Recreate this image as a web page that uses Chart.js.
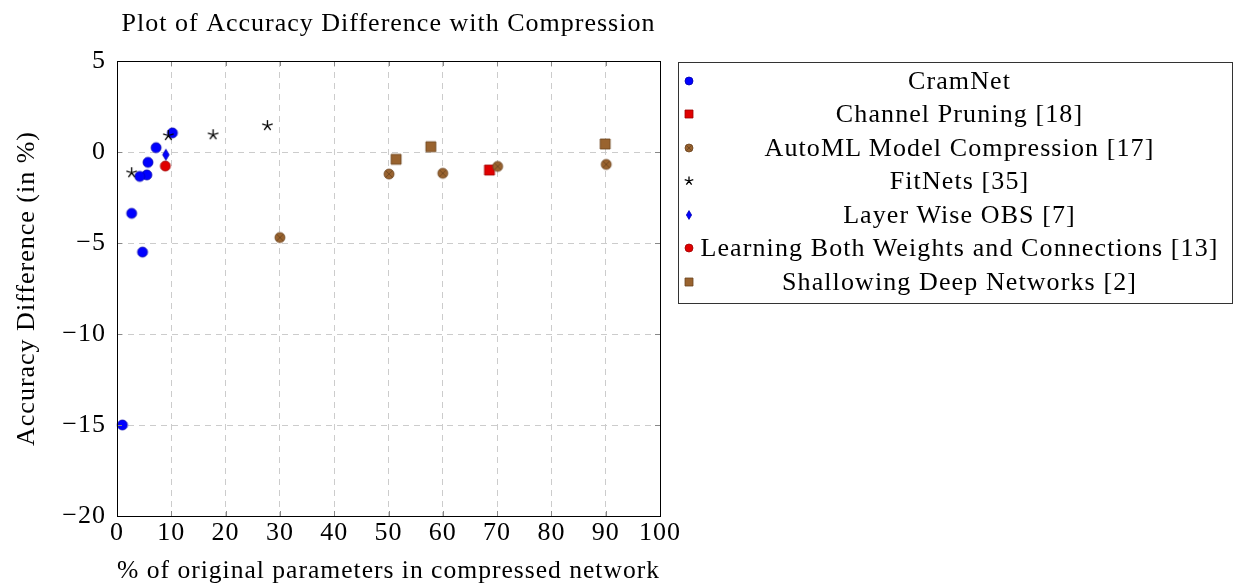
<!DOCTYPE html>
<html>
<head>
<meta charset="utf-8">
<script src="https://cdn.jsdelivr.net/npm/chart.js@4"></script>
<style>
  body { margin: 0; background: #fff; }
  #wrap { position: relative; width: 1233px; height: 586px; font-family: 'Liberation Serif', serif; }
  #legend {
    position: absolute; left: 678px; top: 62px; width: 555px; height: 242px;
    box-sizing: border-box; border: 1px solid #333; background: #fff; padding-top: 1px;
  }
  .row { display: flex; align-items: center; height: 33.5px; }
  .row canvas { width: 18px; height: 14px; flex: none; }
  .row span { flex: 1; text-align: center; font-size: 26px; letter-spacing: 1.1px; color: #000; white-space: nowrap; padding-right: 10px; }
</style>
</head>
<body>
<div id="wrap">
  <canvas id="chart" width="1233" height="586"></canvas>
  <div id="legend"></div>
</div>
<script>
const seriesNames = [
  'CramNet',
  'Channel Pruning [18]',
  'AutoML Model Compression [17]',
  'FitNets [35]',
  'Layer Wise OBS [7]',
  'Learning Both Weights and Connections [13]',
  'Shallowing Deep Networks [2]'
];

// values
const cramNetX = [10.2, 7.2, 5.7, 5.5, 4.2, 2.7, 4.7, 1.0];
const cramNetY = [1.05, 0.24, -0.57, -1.26, -1.34, -3.37, -5.5, -15];
const channelPruningX = [68.6];
const channelPruningY = [-0.99];
const autoMLX = [30, 50.1, 60, 70.1, 90.1];
const autoMLY = [-4.7, -1.21, -1.17, -0.79, -0.68];
const fitNetsX = [2.7, 9.45, 17.7, 27.7];
const fitNetsY = [-1.14, 0.9, 0.95, 1.45];
const layerWiseX = [9];
const layerWiseY = [-0.15];
const learningBothX = [8.9];
const learningBothY = [-0.77];
const shallowingX = [51.4, 57.8, 89.9];
const shallowingY = [-0.4, 0.29, 0.44];

const xTicks = [0, 10, 20, 30, 40, 50, 60, 70, 80, 90, 100];
const yTicks = [-20, -15, -10, -5, 0, 5];

const seriesX = [cramNetX, channelPruningX, autoMLX, fitNetsX, layerWiseX, learningBothX, shallowingX];
const seriesY = [cramNetY, channelPruningY, autoMLY, fitNetsY, layerWiseY, learningBothY, shallowingY];
const markKinds = ['circle', 'square', 'otimes', 'star', 'diamond', 'circle', 'square'];
const markFill = ['#0000ff', '#e00000', '#99632f', '#000', '#0000ff', '#e00000', '#99632f'];
const markLine = ['#0000b0', '#a00000', '#6b4420', '#000', '#0000b0', '#a00000', '#6b4420'];

function drawMark(ctx, kind, cx, cy, r, fill, line) {
  ctx.fillStyle = fill;
  ctx.strokeStyle = line;
  ctx.lineWidth = 0.8;
  ctx.beginPath();
  if (kind === 'circle' || kind === 'otimes') {
    ctx.arc(cx, cy, r, 0, Math.PI * 2);
    ctx.fill();
    ctx.stroke();
    if (kind === 'otimes') {
      const d = r * 0.7;
      ctx.beginPath();
      ctx.moveTo(cx - d, cy - d); ctx.lineTo(cx + d, cy + d);
      ctx.moveTo(cx + d, cy - d); ctx.lineTo(cx - d, cy + d);
      ctx.stroke();
    }
  } else if (kind === 'square') {
    ctx.rect(cx - r, cy - r, 2 * r, 2 * r);
    ctx.fill();
    ctx.stroke();
  } else if (kind === 'diamond') {
    ctx.moveTo(cx, cy - r * 1.1);
    ctx.lineTo(cx + r * 0.65, cy);
    ctx.lineTo(cx, cy + r * 1.1);
    ctx.lineTo(cx - r * 0.65, cy);
    ctx.closePath();
    ctx.fill();
    ctx.stroke();
  } else if (kind === 'star') {
    ctx.lineWidth = 1.3;
    for (let k = 0; k < 5; k++) {
      const a = -Math.PI / 2 + k * 2 * Math.PI / 5;
      ctx.moveTo(cx, cy);
      ctx.lineTo(cx + r * Math.cos(a), cy + r * Math.sin(a));
    }
    ctx.stroke();
  }
}

function markCanvas(i, r) {
  const c = document.createElement('canvas');
  const s = Math.ceil(2 * r + 4);
  c.width = s; c.height = s;
  drawMark(c.getContext('2d'), markKinds[i], s / 2, s / 2, r, markFill[i], markLine[i]);
  return c;
}

const datasets = seriesNames.map((name, i) => ({
  label: name,
  data: seriesX[i].map((x, j) => ({ x: x, y: seriesY[i][j] })),
  pointStyle: markCanvas(i, markKinds[i] === 'star' ? 5.5 : 5),
  showLine: false,
  clip: false,
  order: seriesNames.length - i
}));

// legend
const legend = document.getElementById('legend');
seriesNames.forEach((name, i) => {
  const row = document.createElement('div');
  row.className = 'row';
  const c = document.createElement('canvas');
  c.width = 18; c.height = 14;
  drawMark(c.getContext('2d'), markKinds[i], 10, 7, markKinds[i] === 'star' ? 4.5 : 4, markFill[i], markLine[i]);
  row.appendChild(c);
  const t = document.createElement('span');
  t.textContent = name;
  row.appendChild(t);
  legend.appendChild(row);
});

// wider letter spacing so the serif text comes closer to the original widths
const spacingPlugin = {
  id: 'spacing',
  beforeUpdate(chart) { chart.ctx.letterSpacing = '1px'; },
  beforeDraw(chart) { chart.ctx.letterSpacing = '1px'; }
};

const framePlugin = {
  id: 'frame',
  afterDatasetsDraw(chart) {
    const { ctx, chartArea: a, scales } = chart;
    ctx.save();
    ctx.strokeStyle = '#888';
    ctx.lineWidth = 1;
    ctx.beginPath();
    xTicks.forEach(v => {
      const px = Math.round(scales.x.getPixelForValue(v)) + 0.5;
      ctx.moveTo(px, a.bottom); ctx.lineTo(px, a.bottom - 5);
      ctx.moveTo(px, a.top); ctx.lineTo(px, a.top + 5);
    });
    yTicks.forEach(v => {
      const py = Math.round(scales.y.getPixelForValue(v)) + 0.5;
      ctx.moveTo(a.left, py); ctx.lineTo(a.left + 5, py);
      ctx.moveTo(a.right, py); ctx.lineTo(a.right - 5, py);
    });
    ctx.stroke();
    ctx.strokeStyle = '#000';
    ctx.strokeRect(Math.round(a.left) + 0.5, Math.round(a.top) + 0.5, Math.round(a.right - a.left), Math.round(a.bottom - a.top));
    ctx.restore();
  }
};

const serif = "'Liberation Serif', serif";

new Chart(document.getElementById('chart'), {
  type: 'scatter',
  data: { datasets: datasets },
  options: {
    responsive: false,
    devicePixelRatio: 1,
    animation: false,
    layout: { padding: { right: 573 } },
    plugins: {
      legend: { display: false },
      tooltip: { enabled: false },
      title: {
        display: true,
        fullSize: false,
        text: 'Plot of Accuracy Difference with Compression',
        color: '#000',
        font: { family: serif, size: 26, weight: 'normal', lineHeight: 1.2 },
        padding: { top: 9, bottom: 20.8 }
      }
    },
    scales: {
      x: {
        type: 'linear',
        min: 0, max: 100,
        afterFit: s => { s.height = 70; },
        afterBuildTicks: s => { s.ticks = xTicks.map(v => ({ value: v })); },
        ticks: { color: '#000', padding: 2, font: { family: serif, size: 26 } },
        grid: { color: '#cccccc', drawTicks: false },
        border: { display: false, dash: [6, 5] },
        title: {
          display: true,
          text: '% of original parameters in compressed network',
          color: '#000',
          font: { family: serif, size: 26 },
          padding: { top: 0, bottom: -1 }
        }
      },
      y: {
        type: 'linear',
        min: -20, max: 5,
        afterFit: s => { s.width = 117; },
        afterBuildTicks: s => { s.ticks = yTicks.map(v => ({ value: v })); },
        ticks: {
          color: '#000', padding: 11, font: { family: serif, size: 26 },
          callback: v => String(v).replace('-', '\u2212')
        },
        grid: { color: '#cccccc', drawTicks: false },
        border: { display: false, dash: [6, 5] },
        title: {
          display: true,
          text: 'Accuracy Difference (in %)',
          color: '#000',
          font: { family: serif, size: 26 },
          padding: { top: 12, bottom: 0 }
        }
      }
    }
  },
  plugins: [spacingPlugin, framePlugin]
});
</script>
</body>
</html>
